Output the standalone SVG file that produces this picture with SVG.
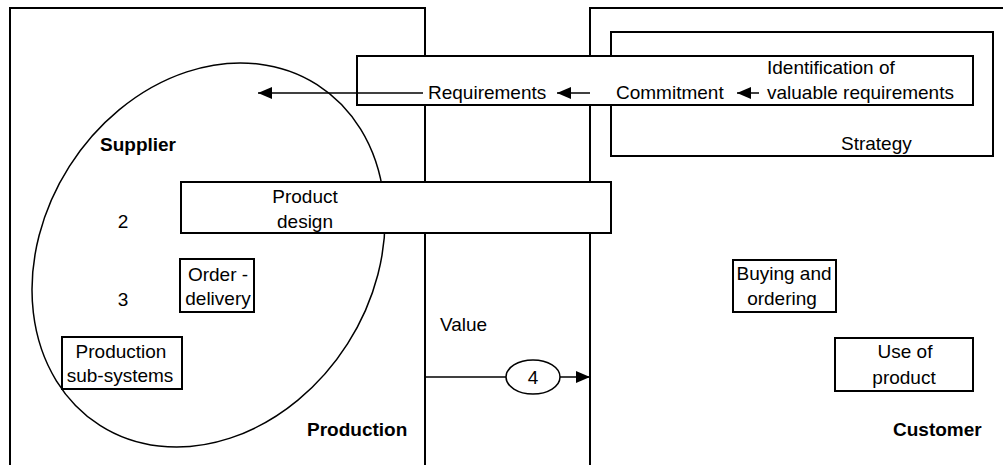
<svg xmlns="http://www.w3.org/2000/svg" width="1003" height="465" viewBox="0 0 1003 465">
  <style>
    text { font-family: "Liberation Sans", Arial, sans-serif; font-size: 19px; fill: #000; }
    .bold { font-weight: bold; }
    .mid { text-anchor: middle; }
    .frame { fill: none; stroke: #000; stroke-width: 2; }
    .box { fill: #fff; stroke: #000; stroke-width: 2; }
    .line { fill: none; stroke: #000; stroke-width: 1.5; }
  </style>
  <defs>
    <marker id="head" viewBox="0 0 14 12" refX="14" refY="6" markerWidth="14" markerHeight="12" markerUnits="userSpaceOnUse" orient="auto">
      <path d="M0,0 L14,6 L0,12 z" fill="#000"/>
    </marker>
  </defs>
  <rect width="1003" height="465" fill="#fff"/>

  <!-- domains -->
  <g id="production">
    <rect class="frame" x="10" y="8" width="415" height="480"/>
    <text class="bold" x="307" y="436">Production</text>
  </g>
  <g id="customer">
    <rect class="frame" x="590" y="8" width="430" height="480"/>
    <text class="bold" x="893" y="436">Customer</text>
  </g>
  <g id="strategy">
    <rect class="frame" x="611" y="32" width="382" height="124"/>
    <text x="841" y="150">Strategy</text>
  </g>

  <!-- supplier boundary -->
  <g id="supplier">
    <ellipse class="line" cx="208.5" cy="255" rx="202" ry="165" transform="rotate(-57.5 208.5 255)"/>
    <text class="bold" x="100" y="151">Supplier</text>
    <text class="mid" x="123" y="228">2</text>
    <text class="mid" x="123" y="306">3</text>
  </g>

  <g id="requirements-chain">
    <rect class="box" x="357" y="56" width="616" height="49"/>
    <text x="428" y="99">Requirements</text>
    <text x="616" y="99">Commitment</text>
    <text x="767" y="74">Identification of</text>
    <text x="767" y="99">valuable requirements</text>
  </g>

  <g id="product-design">
    <rect class="box" x="181" y="182" width="430" height="51"/>
    <text class="mid" x="305" y="203">Product</text>
    <text class="mid" x="305" y="228">design</text>
  </g>

  <g id="order-delivery">
    <rect class="box" x="180" y="259" width="74" height="53"/>
    <text class="mid" x="218" y="281">Order -</text>
    <text class="mid" x="218" y="305">delivery</text>
  </g>

  <g id="production-subsystems">
    <rect class="box" x="62" y="337" width="120" height="52"/>
    <text class="mid" x="121" y="358">Production</text>
    <text class="mid" x="120" y="382">sub-systems</text>
  </g>

  <g id="buying-ordering">
    <rect class="box" x="733" y="260" width="103" height="52"/>
    <text class="mid" x="784" y="280">Buying and</text>
    <text class="mid" x="782" y="305">ordering</text>
  </g>

  <g id="use-of-product">
    <rect class="box" x="835" y="338" width="138" height="53"/>
    <text class="mid" x="905" y="358">Use of</text>
    <text class="mid" x="904" y="384">product</text>
  </g>

  <g id="value">
    <text x="440" y="331">Value</text>
    <ellipse class="line" cx="533" cy="377" rx="27" ry="17"/>
    <text class="mid" x="533" y="384">4</text>
  </g>

  <!-- connectors -->
  <g id="connectors">
    <line class="line" x1="423" y1="93" x2="258" y2="93" marker-end="url(#head)"/>
    <line class="line" x1="590" y1="93" x2="557" y2="93" marker-end="url(#head)"/>
    <line class="line" x1="759" y1="93" x2="737" y2="93" marker-end="url(#head)"/>
    <line class="line" x1="425" y1="377" x2="506" y2="377"/>
    <line class="line" x1="560" y1="377" x2="590" y2="377" marker-end="url(#head)"/>
  </g>
</svg>
